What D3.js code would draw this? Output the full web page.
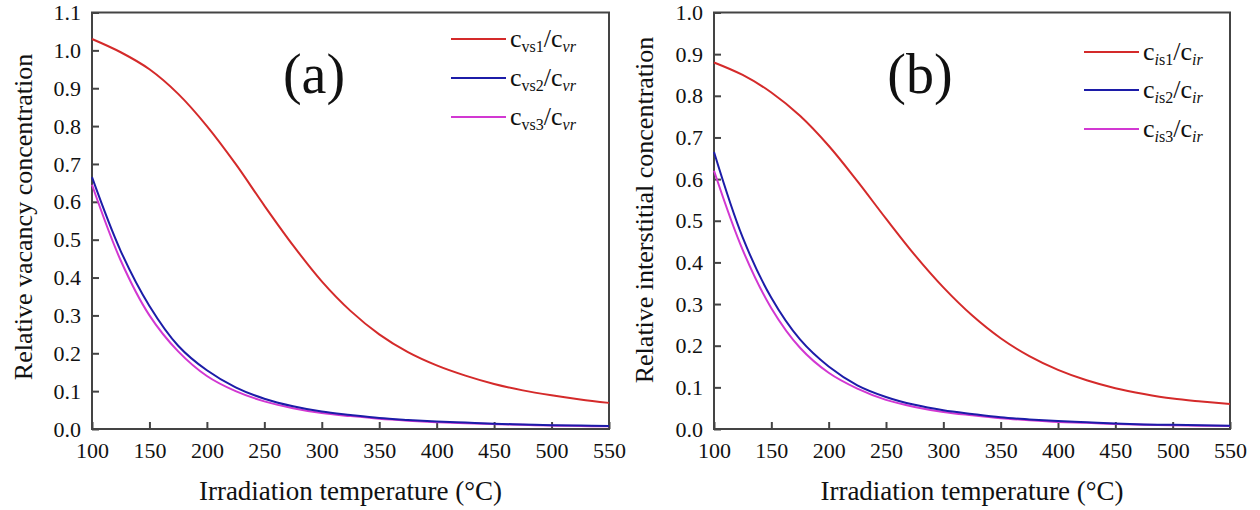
<!DOCTYPE html>
<html>
<head>
<meta charset="utf-8">
<script src="https://cdn.jsdelivr.net/npm/d3@7"></script>
<style>
  body { margin: 0; background: #fff; }
  svg { display: block; }
</style>
</head>
<body>
<svg id="chart" width="1260" height="510" font-family="Liberation Serif"></svg>
<script>
const FONT = 'Liberation Serif';

// temperatures (°C)
const temps = [100, 125, 150, 175, 200, 225, 250, 275, 300, 325, 350, 375, 400, 425, 450, 475, 500, 525, 550];

// panel (a) vacancy
const vs1 = [1.03, 0.995, 0.95, 0.885, 0.80, 0.70, 0.59, 0.485, 0.39, 0.312, 0.25, 0.203, 0.168, 0.141, 0.119, 0.102, 0.089, 0.078, 0.069];
const vs2 = [0.665, 0.47, 0.325, 0.22, 0.155, 0.11, 0.08, 0.06, 0.046, 0.037, 0.029, 0.024, 0.02, 0.017, 0.014, 0.012, 0.01, 0.009, 0.008];
const vs3 = [0.645, 0.445, 0.30, 0.205, 0.14, 0.10, 0.073, 0.055, 0.042, 0.034, 0.027, 0.022, 0.018, 0.015, 0.013, 0.011, 0.009, 0.008, 0.007];

// panel (b) interstitial
const is1 = [0.88, 0.85, 0.808, 0.752, 0.68, 0.595, 0.505, 0.418, 0.34, 0.273, 0.218, 0.175, 0.142, 0.117, 0.098, 0.084, 0.073, 0.066, 0.06];
const is2 = [0.665, 0.46, 0.315, 0.215, 0.15, 0.105, 0.077, 0.058, 0.045, 0.036, 0.028, 0.023, 0.019, 0.016, 0.013, 0.011, 0.01, 0.009, 0.008];
const is3 = [0.62, 0.43, 0.29, 0.195, 0.135, 0.097, 0.07, 0.053, 0.041, 0.033, 0.026, 0.021, 0.017, 0.015, 0.012, 0.01, 0.009, 0.008, 0.007];

const xTicks = [100, 150, 200, 250, 300, 350, 400, 450, 500, 550];

const COLORS = ['#d42a2a', '#1c1ca8', '#d238d2'];

const panels = [
    {
        left: 92, right: 609, yMax: 1.1, tag: '(a)', tagX: 314,
        yTitle: 'Relative vacancy concentration', yTitleX: 32, yTitleY: 217,
        series: [vs1, vs2, vs3],
        labels: [
            { sub1: 'vs1', it1: false, sub2: 'vr' },
            { sub1: 'vs2', it1: false, sub2: 'vr' },
            { sub1: 'vs3', it1: false, sub2: 'vr' }
        ],
        legX: 451, legY: [39, 78, 117]
    },
    {
        left: 714, right: 1230, yMax: 1.0, tag: '(b)', tagX: 920,
        yTitle: 'Relative interstitial concentration', yTitleX: 653, yTitleY: 210,
        series: [is1, is2, is3],
        labels: [
            { sub1: 's1', it1: true, sub2: 'ir' },
            { sub1: 's2', it1: true, sub2: 'ir' },
            { sub1: 's3', it1: true, sub2: 'ir' }
        ],
        legX: 1084, legY: [52, 90, 129]
    }
];

const plotTop = 12.5, plotBottom = 429;
const svg = d3.select('#chart');

panels.forEach(p => {
    const x = d3.scaleLinear().domain([100, 550]).range([p.left, p.right]);
    const y = d3.scaleLinear().domain([0, p.yMax]).range([plotBottom, plotTop]);
    const yTicks = d3.range(0, p.yMax + 0.001, 0.1);

    const g = svg.append('g').attr('font-family', FONT);

    // frame
    g.append('rect')
    .attr('x', p.left)
    .attr('y', plotTop)
    .attr('width', p.right - p.left)
    .attr('height', plotBottom - plotTop)
    .attr('fill', 'none')
    .attr('stroke', '#444')
    .attr('stroke-width', 2);

    // x axis
    const xAxis = g.append('g')
    .attr('transform', `translate(0,${plotBottom})`)
    .call(d3.axisBottom(x).tickValues(xTicks).tickSizeInner(-7).tickSizeOuter(0).tickPadding(13));
    xAxis.attr('font-family', FONT).attr('font-size', 22);
    xAxis.select('.domain').remove();
    xAxis.selectAll('line').attr('stroke', '#444').attr('stroke-width', 2);
    xAxis.selectAll('text').attr('fill', '#111');

    // y axis
    const yAxis = g.append('g')
    .attr('transform', `translate(${p.left},0)`)
    .call(d3.axisLeft(y).tickValues(yTicks).tickFormat(d3.format('.1f')).tickSizeInner(-7).tickSizeOuter(0).tickPadding(11));
    yAxis.attr('font-family', FONT).attr('font-size', 22);
    yAxis.select('.domain').remove();
    yAxis.selectAll('line').attr('stroke', '#444').attr('stroke-width', 2);
    yAxis.selectAll('text').attr('fill', '#111');

    // titles
    g.append('text')
    .attr('x', (p.left + p.right) / 2)
    .attr('y', 500)
    .attr('text-anchor', 'middle')
    .attr('font-size', 27)
    .attr('fill', '#111')
    .text('Irradiation temperature (°C)');

    g.append('text')
    .attr('transform', `translate(${p.yTitleX},${p.yTitleY}) rotate(-90)`)
    .attr('text-anchor', 'middle')
    .attr('font-size', 26)
    .attr('fill', '#111')
    .text(p.yTitle);

    g.append('text')
    .attr('x', p.tagX)
    .attr('y', 93)
    .attr('text-anchor', 'middle')
    .attr('font-size', 56)
    .attr('fill', '#111')
    .text(p.tag);

    // curves
    const line = d3.line()
    .x((d, i) => x(temps[i]))
    .y(d => y(d))
    .curve(d3.curveCatmullRom.alpha(0.5));

    // magenta first so blue sits on top like the reference
    [2, 0, 1].forEach(k => {
        g.append('path')
        .datum(p.series[k])
        .attr('d', line)
        .attr('fill', 'none')
        .attr('stroke', COLORS[k])
        .attr('stroke-width', 2);
    });

    // legend
    p.labels.forEach((lab, k) => {
        const ly = p.legY[k];
        g.append('line')
        .attr('x1', p.legX)
        .attr('x2', p.legX + 55)
        .attr('y1', ly)
        .attr('y2', ly)
        .attr('stroke', COLORS[k])
        .attr('stroke-width', 2);

        const t = g.append('text')
        .attr('x', p.legX + 59)
        .attr('y', ly + 8)
        .attr('font-size', 26)
        .attr('fill', '#111');
        t.append('tspan').text('c');
        if (lab.it1) {
            t.append('tspan').attr('dy', 5).attr('font-size', 16).attr('font-style', 'italic').text('i');
            t.append('tspan').attr('font-size', 16).text(lab.sub1);
        } else {
            t.append('tspan').attr('dy', 5).attr('font-size', 16).text(lab.sub1);
        }
        t.append('tspan').attr('dy', -5).text('/c');
        t.append('tspan').attr('dy', 5).attr('font-size', 16).attr('font-style', 'italic').text(lab.sub2);
    });
});
</script>
</body>
</html>
